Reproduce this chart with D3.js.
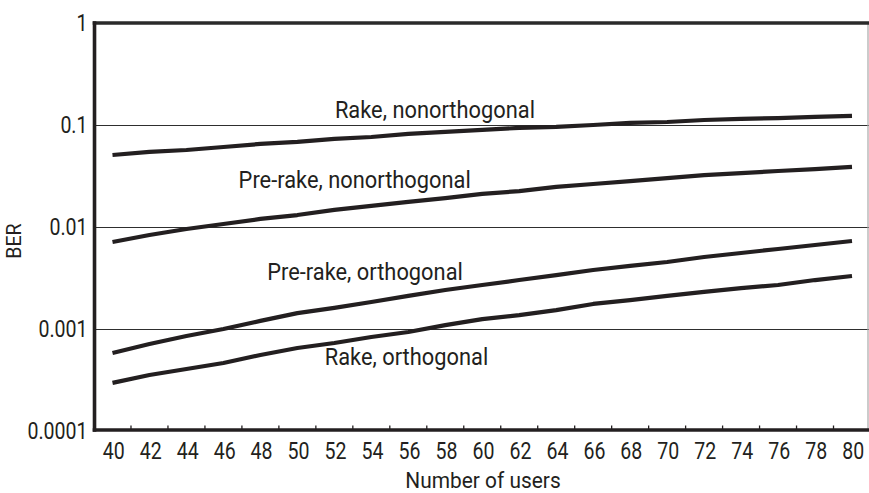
<!DOCTYPE html>
<html>
<head>
<meta charset="utf-8">
<script src="https://cdn.jsdelivr.net/npm/d3@7"></script>
<style>
  html, body { margin: 0; padding: 0; background: #fff; }
  svg { display: block; }
  text { font-family: Roboto, "Liberation Sans", sans-serif; fill: #231f20; }
</style>
</head>
<body>
<svg id="chart" width="869" height="493"></svg>
<script>
// Number of users (x) and bit error rate for the four receiver configurations
const users = [40, 42, 44, 46, 48, 50, 52, 54, 56, 58, 60, 62, 64, 66, 68, 70, 72, 74, 76, 78, 80];

const rakeNonorthogonal = [0.0508, 0.0546, 0.0569, 0.0609, 0.0652, 0.0683, 0.0731, 0.0763, 0.0817, 0.0855,
  0.0895, 0.0937, 0.0959, 0.100, 0.105, 0.107, 0.112, 0.115, 0.117, 0.120, 0.123];
const preRakeNonorthogonal = [0.00713, 0.00835, 0.00955, 0.0107, 0.0120, 0.0131, 0.0147, 0.0161, 0.0176, 0.0192,
  0.0211, 0.0225, 0.0247, 0.0264, 0.0282, 0.0302, 0.0323, 0.0338, 0.0354, 0.0370, 0.0388];
const preRakeOrthogonal = [0.000582, 0.000713, 0.000853, 0.00100, 0.00120, 0.00143, 0.00161, 0.00184, 0.00211, 0.00241,
  0.00270, 0.00302, 0.00338, 0.00379, 0.00415, 0.00454, 0.00508, 0.00556, 0.00609, 0.00666, 0.00729];
const rakeOrthogonal = [0.000296, 0.000354, 0.000405, 0.000464, 0.000556, 0.000651, 0.000729, 0.000835, 0.000935, 0.00109,
  0.00125, 0.00137, 0.00153, 0.00176, 0.00192, 0.00211, 0.00231, 0.00252, 0.00270, 0.00302, 0.00331];

const seriesNames = ["Rake, nonorthogonal", "Pre-rake, nonorthogonal", "Pre-rake, orthogonal", "Rake, orthogonal"];
const seriesValues = [rakeNonorthogonal, preRakeNonorthogonal, preRakeOrthogonal, rakeOrthogonal];

// Label anchor (text baseline centre) for each curve, in data units (users, BER)
const labelUsers = [57.44, 53.1, 53.66, 55.9];
const labelBer = [0.117, 0.0241, 0.00302, 0.000443];

const yTickValues = [1, 0.1, 0.01, 0.001, 0.0001];
const yTickLabels = ["1", "0.1", "0.01", "0.001", "0.0001"];
const xTickLabels = d3.range(40, 81, 2);
const xMinorTicks = d3.range(41, 80, 2);

const svg = d3.select("#chart");
const ink = "#231f20";

const x = d3.scaleLinear().domain([40, 80]).range([112.5, 852]);
const y = d3.scaleLog().domain([0.0001, 1]).range([431, 23]);

const frameLeft = x(39) + 0.5;
const frameRight = 868;
const frameTop = y(1);
const frameBottom = 430;

// Condensed text: scale glyphs horizontally around the anchor point
function condensed(sel, xPos, yPos, sx) {
  sel.attr("x", 0).attr("y", 0)
     .attr("transform", `translate(${xPos},${yPos}) scale(${sx},1)`);
}

// Horizontal decade gridlines (half-pixel offset keeps them crisp)
svg.append("g")
  .selectAll("line")
  .data([0.1, 0.01, 0.001])
  .join("line")
  .attr("x1", frameLeft).attr("x2", 869)
  .attr("y1", d => Math.round(y(d)) + 0.5).attr("y2", d => Math.round(y(d)) + 0.5)
  .attr("stroke", "#2e2e2e").attr("stroke-width", 1.1);

// Right border (thin)
svg.append("line")
  .attr("x1", frameRight).attr("x2", frameRight)
  .attr("y1", frameTop).attr("y2", frameBottom)
  .attr("stroke", "#a8a8a8").attr("stroke-width", 1.2);

// Top border
svg.append("line")
  .attr("x1", frameLeft - 1.8).attr("x2", 869)
  .attr("y1", frameTop).attr("y2", frameTop)
  .attr("stroke", "#2a2a2a").attr("stroke-width", 3.4);

// Bottom axis line and minor ticks between labels
svg.append("line")
  .attr("x1", frameLeft - 1.8).attr("x2", 869)
  .attr("y1", frameBottom).attr("y2", frameBottom)
  .attr("stroke", ink).attr("stroke-width", 3.6);
svg.append("g")
  .selectAll("line")
  .data(xMinorTicks)
  .join("line")
  .attr("x1", d => x(d)).attr("x2", d => x(d))
  .attr("y1", frameBottom).attr("y2", frameBottom - 4.5)
  .attr("stroke", ink).attr("stroke-width", 1.3);

// Left axis line
svg.append("line")
  .attr("x1", frameLeft).attr("x2", frameLeft)
  .attr("y1", frameTop - 1.7).attr("y2", frameBottom + 1.8)
  .attr("stroke", ink).attr("stroke-width", 3.6);

// Y tick labels
svg.append("g")
  .selectAll("text")
  .data(yTickValues)
  .join("text")
  .attr("text-anchor", "end")
  .attr("font-size", 23)
  .each(function (d) {
    condensed(d3.select(this), 87.5, y(d) + 8, 0.85);
  })
  .text((d, i) => yTickLabels[i]);

// X tick labels
svg.append("g")
  .selectAll("text")
  .data(xTickLabels)
  .join("text")
  .attr("text-anchor", "middle")
  .attr("font-size", 23)
  .each(function (d) {
    condensed(d3.select(this), x(d) + 1.2, 458.5, 0.85);
  })
  .text(d => d);

// Axis titles
svg.append("text")
  .attr("text-anchor", "middle")
  .attr("font-size", 22)
  .call(s => condensed(s, 483, 488, 0.95))
  .text("Number of users");

svg.append("text")
  .attr("text-anchor", "middle")
  .attr("font-size", 21)
  .attr("transform", "translate(21,241) rotate(-90) scale(0.93,1)")
  .text("BER");

// BER curves
const line = d3.line()
  .x((d, i) => x(users[i]))
  .y(d => y(d));

svg.append("g")
  .selectAll("path")
  .data(seriesValues)
  .join("path")
  .attr("d", d => line(d))
  .attr("fill", "none")
  .attr("stroke", ink)
  .attr("stroke-width", 4.2)
  .attr("stroke-linejoin", "round");

// Curve labels
svg.append("g")
  .selectAll("text")
  .data(seriesNames)
  .join("text")
  .attr("text-anchor", "middle")
  .attr("font-size", 23)
  .each(function (d, i) {
    condensed(d3.select(this), x(labelUsers[i]), y(labelBer[i]), 0.95);
  })
  .text(d => d);
</script>
</body>
</html>
